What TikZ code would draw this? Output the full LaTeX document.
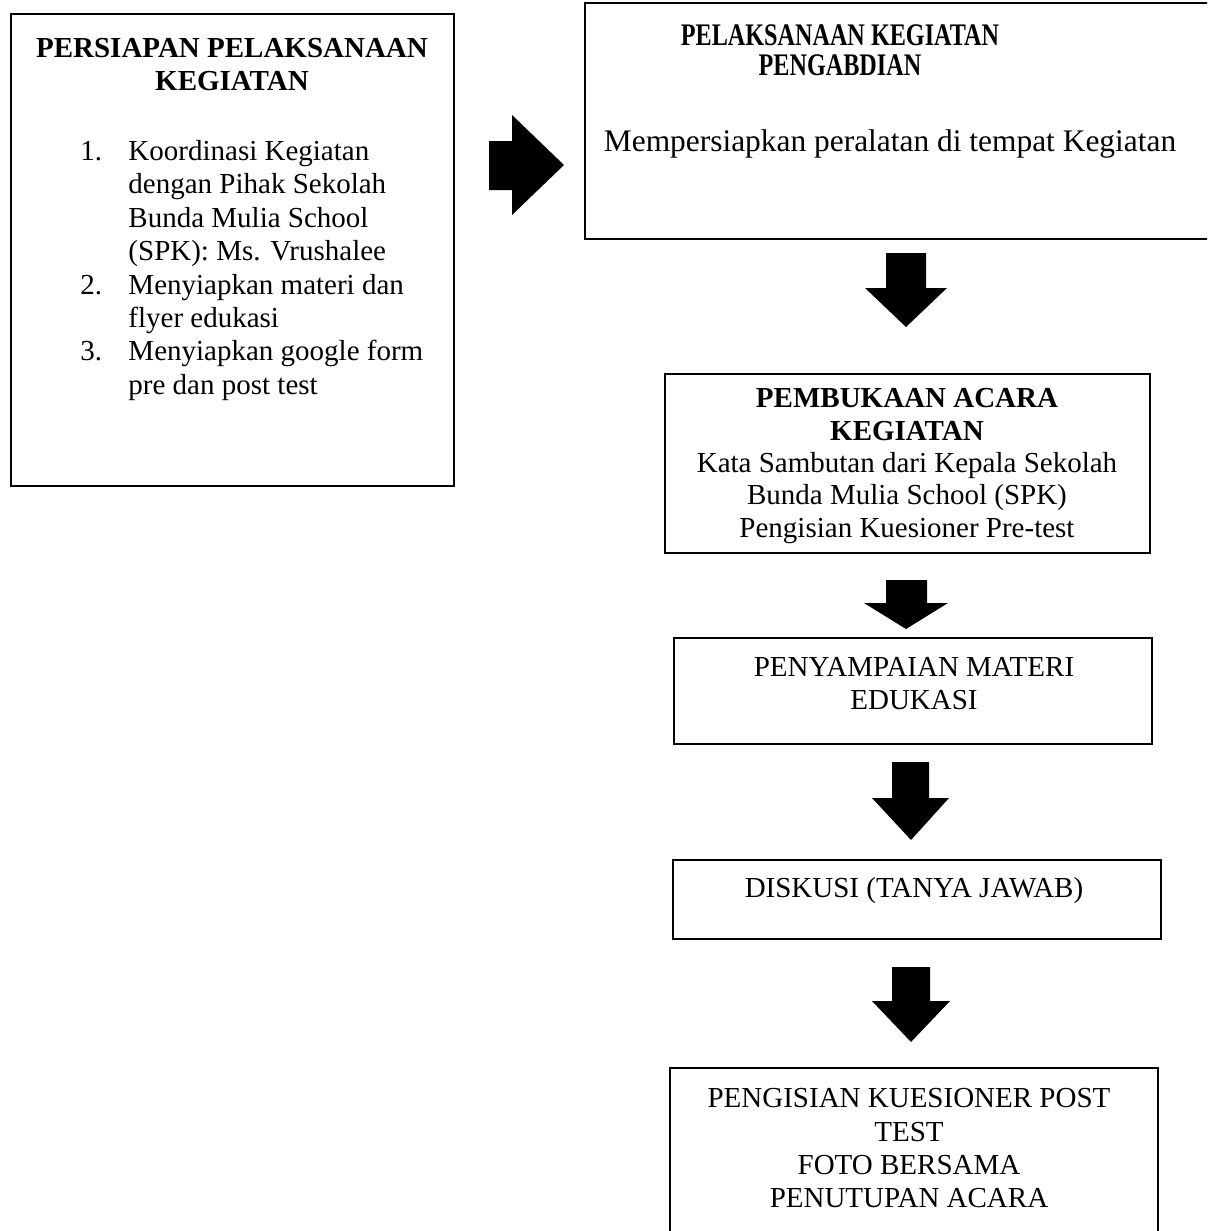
\documentclass[tikz,border=0pt]{standalone}
\usepackage{fontspec}
\setmainfont{Liberation Serif}
\usepackage{graphicx}
\usetikzlibrary{fit}
\begin{document}
\begin{tikzpicture}[x=0.41379pt,y=-0.41379pt,
  box/.style={draw=black, line width=0.8pt, inner sep=0pt},
  txt/.style={inner sep=0pt, align=center, font=\fontsize{12}{13.8}\selectfont},
  blk/.style={fill=black, draw=none}]
\useasboundingbox (0,0) rectangle (1207,1231);
\clip (0,0) rectangle (1207,1231);
\fill[white] (0,0) rectangle (1207,1231);

% boxes
\node[box, fit={(11,14) (454,486)}] (prep) {};
\node[box, fit={(585,3) (1230,239)}] (pel) {};
\node[box, fit={(665,374) (1150,553)}] (buka) {};
\node[box, fit={(674,638) (1152,744)}] (materi) {};
\node[box, fit={(673,860) (1161,939)}] (disk) {};
\node[box, fit={(670,1068) (1158,1260)}] (post) {};

% texts
\node[txt, anchor=north, font=\fontsize{12}{13.4}\selectfont\bfseries] (prepT) at (232,38)
  {PERSIAPAN PELAKSANAAN\\KEGIATAN};
\node[txt, anchor=north west, align=left] (prepL) at (80,140)
  {\makebox[19.86pt][l]{1.}Koordinasi Kegiatan\\
   \hspace*{19.86pt}dengan Pihak Sekolah\\
   \hspace*{19.86pt}Bunda Mulia School\\
   \hspace*{19.86pt}(SPK): Ms. Vrushalee\\
   \makebox[19.86pt][l]{2.}Menyiapkan materi dan\\
   \hspace*{19.86pt}flyer edukasi\\
   \makebox[19.86pt][l]{3.}Menyiapkan google form\\
   \hspace*{19.86pt}pre dan post test};

\node[txt, anchor=north, font=\fontsize{13}{12.6}\selectfont\bfseries] (pelT) at (840,24)
  {\scalebox{0.77}[1]{PELAKSANAAN KEGIATAN}\\\scalebox{0.77}[1]{PENGABDIAN}};
\node[txt, anchor=north, font=\fontsize{13}{15}\selectfont] (pelB) at (890,129)
  {Mempersiapkan peralatan di tempat Kegiatan};

\node[txt, anchor=north, font=\fontsize{12}{13.4}\selectfont] (bukaT) at (907,388)
  {\textbf{PEMBUKAAN ACARA}\\\textbf{KEGIATAN}\\Kata Sambutan dari Kepala Sekolah\\Bunda Mulia School (SPK)\\Pengisian Kuesioner Pre-test};
\node[txt, anchor=north] (materiT) at (914,657) {PENYAMPAIAN MATERI\\EDUKASI};
\node[txt, anchor=north] (diskT) at (914,877) {DISKUSI (TANYA JAWAB)};
\node[txt, anchor=north] (postT) at (909,1088)
  {PENGISIAN KUESIONER POST\\TEST\\FOTO BERSAMA\\PENUTUPAN ACARA};

% block arrows
\fill[blk] (489,141) -- (512,141) -- (512,115) -- (564,165) -- (512,215) -- (512,190) -- (489,190) -- cycle;
\fill[blk] (886,253) -- (926,253) -- (926,288) -- (947,288) -- (906,327) -- (865,288) -- (886,288) -- cycle;
\fill[blk] (886,580) -- (927,580) -- (927,603) -- (948,603) -- (906,629) -- (864,603) -- (886,603) -- cycle;
\fill[blk] (892,762) -- (929,762) -- (929,798) -- (949,798) -- (911,840) -- (872,798) -- (892,798) -- cycle;
\fill[blk] (892,967) -- (930,967) -- (930,1001) -- (950,1001) -- (911,1042) -- (872,1001) -- (892,1001) -- cycle;
\end{tikzpicture}
\end{document}
